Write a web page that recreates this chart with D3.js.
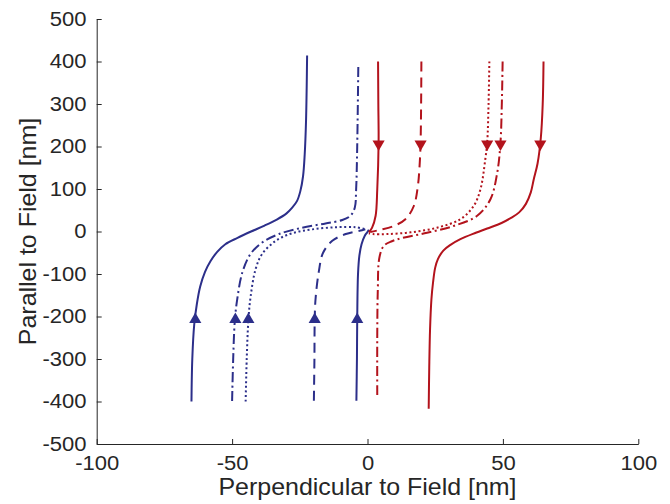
<!DOCTYPE html>
<html>
<head>
<meta charset="utf-8">
<script src="https://cdn.jsdelivr.net/npm/d3@7"></script>
<style>
  body { margin: 0; background: #fff; }
  text { font-family: "Liberation Sans", Arial, Helvetica, sans-serif; fill: #262626; }
</style>
</head>
<body>
<svg id="chart" width="670" height="504"></svg>
<script>
// Axis ticks
const xTicks = [-100, -50, 0, 50, 100];
const yTicks = [-500, -400, -300, -200, -100, 0, 100, 200, 300, 400, 500];

// Trajectories as [perpendicular, parallel] in nm, listed in the direction of travel.
// Blue: moving up along the field
const blueOuterSolid = [[-65,-400],[-64.7,-300],[-64,-220],[-63,-170],[-61.8,-130],[-60,-95],[-58,-70],[-55.5,-48],[-52.5,-30],[-48,-15],[-43,0],[-38,14],[-33.5,28],[-30,42],[-27.8,56],[-26,72],[-24.8,95],[-23.8,130],[-23.2,180],[-22.7,260],[-22.3,414]];
const blueDashDot = [[-50,-399],[-49.6,-300],[-49,-210],[-48.1,-159],[-46.2,-96],[-43.2,-53],[-38.9,-26],[-32.7,-6],[-24.1,9],[-15.5,19],[-9.3,27],[-6.3,37],[-4.7,56],[-4.2,99],[-3.8,200],[-3.4,388]];
const blueDotted = [[-45,-400],[-44.6,-300],[-44,-210],[-43.2,-155],[-41.3,-88],[-38.9,-53],[-33.9,-22],[-27.8,-4],[-20.4,5],[-11.8,10],[-4.4,10],[-0.7,5]];
const blueDashed = [[-19.8,-398],[-19.6,-300],[-19.5,-210],[-19.2,-160],[-18,-95],[-16.4,-50],[-13,-22],[-8,-6],[-2,3],[-0.8,5]];
const blueInnerSolid = [[-4.1,-398],[-3.9,-300],[-3.8,-210],[-3.5,-100],[-3,-57],[-2.2,-30],[-1,-10],[-0.1,-2],[0.5,4]];

// Red: moving down along the field
const redInnerSolid = [[3.9,400],[4,300],[4.1,209],[3.6,99],[3,37],[1.7,9],[0.5,-2]];
const redDashed = [[19.9,400],[19.8,300],[19.6,209],[19.3,162],[18.6,107],[17.1,60],[14,29],[9.7,13],[4.8,4],[1,-1]];
const redDotted = [[45,400],[44.7,300],[44.2,209],[43.5,170],[41.7,99],[39.2,60],[34.3,29],[25.7,9],[15.9,-2],[7.3,-6],[2,-6],[0.5,-4]];
const redDashDot = [[49.9,400],[49.6,300],[49.1,209],[47.9,138],[45.4,76],[40.5,37],[31.8,13],[22,-3],[13,-15],[9,-23],[6,-34],[4.4,-61],[3.8,-139],[3.6,-250],[3.6,-386]];
const redOuterSolid = [[65,400],[64.7,300],[64,220],[62.8,160],[61.4,123],[60.3,92],[58.5,65],[56,45],[53,32],[49.5,20],[44.2,7],[40,-3],[34.3,-18],[30.5,-32],[28,-45],[26,-65],[25,-85],[24.2,-120],[23.6,-160],[23.1,-230],[22.8,-320],[22.6,-417]];

// Direction markers
const blueArrowX = [-63.6, -48.8, -44, -19.5, -3.8];
const blueArrowY = [-207, -207, -207, -207, -207];
const redArrowX = [4.1, 19.6, 44.2, 49.1, 63.8];
const redArrowY = [206, 206, 206, 206, 206];

const BLUE = "#2c2f8a";
const RED = "#b3131c";

const series = [
  { pts: blueOuterSolid, color: BLUE, dash: null },
  { pts: blueDashDot,    color: BLUE, dash: "10,3.5,2,3.5" },
  { pts: blueDotted,     color: BLUE, dash: "2,2.6" },
  { pts: blueDashed,     color: BLUE, dash: "10,6" },
  { pts: blueInnerSolid, color: BLUE, dash: null },
  { pts: redInnerSolid,  color: RED,  dash: null },
  { pts: redDashed,      color: RED,  dash: "10,6" },
  { pts: redDotted,      color: RED,  dash: "2,2.6" },
  { pts: redDashDot,     color: RED,  dash: "10,3.5,2,3.5" },
  { pts: redOuterSolid,  color: RED,  dash: null }
];

const svg = d3.select("#chart");
const x = d3.scaleLinear().domain([-100, 100]).range([96.7, 638.3]);
const y = d3.scaleLinear().domain([-500, 500]).range([444, 19]);

// Axes with inward ticks, no box
const xAxis = d3.axisBottom(x).tickValues(xTicks).tickFormat(d3.format("d"))
  .tickSizeInner(-5).tickSizeOuter(0).tickPadding(12);
const yAxis = d3.axisLeft(y).tickValues(yTicks).tickFormat(d3.format("d"))
  .tickSizeInner(-5).tickSizeOuter(0).tickPadding(9);

const fmt = g => {
  g.selectAll("path.domain").attr("stroke", "#262626").attr("stroke-width", 1);
  g.selectAll(".tick line").attr("stroke", "#262626").attr("stroke-width", 1);
  g.selectAll(".tick text")
    .attr("font-size", 19.5)
    .attr("transform", "scale(1.13,1)")
    .style("font-family", '"Liberation Sans", Arial, sans-serif')
    .attr("fill", "#262626")
    .text(d => String(d));
};
svg.append("g").attr("transform", `translate(0,${y(-500)})`).call(xAxis).call(fmt);
svg.append("g").attr("transform", `translate(${x(-100)},0)`).call(yAxis).call(fmt);

// Trajectories
const line = d3.line().x(d => x(d[0])).y(d => y(d[1])).curve(d3.curveCatmullRom.alpha(0.5));
svg.append("g").selectAll("path").data(series).join("path")
  .attr("d", s => line(s.pts))
  .attr("fill", "none")
  .attr("stroke", s => s.color)
  .attr("stroke-width", 2)
  .attr("stroke-dasharray", s => s.dash)
  .attr("stroke-linejoin", "round");

// Direction markers: up for blue, down for red
const tri = d3.symbol(d3.symbolTriangle, 64);
svg.append("g").selectAll("path").data(blueArrowX).join("path")
  .attr("d", tri)
  .attr("fill", BLUE)
  .attr("transform", (d, i) => `translate(${x(d)},${y(blueArrowY[i])})`);
svg.append("g").selectAll("path").data(redArrowX).join("path")
  .attr("d", tri)
  .attr("fill", RED)
  .attr("transform", (d, i) => `translate(${x(d)},${y(redArrowY[i])}) rotate(180)`);

// Axis titles
svg.append("text").attr("transform", `translate(${x(0)},495) scale(1.04,1)`).attr("text-anchor", "middle")
  .attr("font-size", 24).text("Perpendicular to Field [nm]");
svg.append("text").attr("transform", `translate(36,${y(0)}) rotate(-90) scale(1.04,1)`).attr("text-anchor", "middle")
  .attr("font-size", 24).text("Parallel to Field [nm]");
</script>
</body>
</html>
